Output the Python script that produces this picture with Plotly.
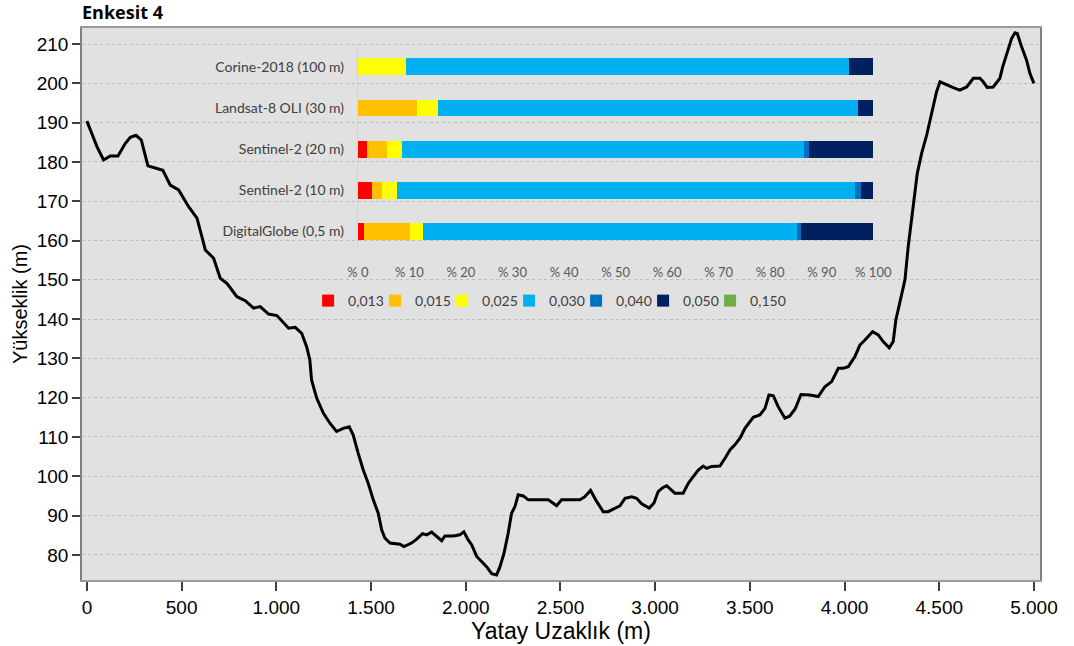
import plotly.graph_objects as go

# ---- profile data (Enkesit 4) ----
distance = [0, 26, 53, 88, 123, 164, 202, 229, 259, 287, 322, 352, 401, 440, 484, 537, 581, 607, 625, 669,
            704, 739, 792, 836, 880, 915, 959, 1003, 1065, 1100, 1134, 1160, 1177, 1186, 1213, 1248, 1283, 1318,
            1353, 1385, 1406, 1432, 1459, 1485, 1512, 1538, 1556, 1573, 1600, 1653, 1674, 1714, 1741, 1772, 1794,
            1820, 1846, 1873, 1890, 1934, 1969, 1990, 2013, 2031, 2058, 2084, 2110, 2137, 2163, 2181, 2202, 2224,
            2242, 2260, 2277, 2304, 2330, 2436, 2480, 2506, 2603, 2629, 2659, 2691, 2726, 2752, 2779, 2814, 2841,
            2876, 2902, 2929, 2969, 2994, 3016, 3040, 3061, 3078, 3104, 3148, 3175, 3201, 3228, 3254, 3272, 3298,
            3342, 3369, 3395, 3421, 3448, 3474, 3518, 3553, 3580, 3601, 3624, 3650, 3685, 3710, 3740, 3770, 3817,
            3861, 3896, 3932, 3967, 3993, 4020, 4055, 4081, 4108, 4148, 4178, 4204, 4236, 4257, 4271, 4292, 4319,
            4336, 4363, 4384, 4407, 4434, 4460, 4486, 4504, 4539, 4574, 4609, 4645, 4680, 4715, 4732, 4753, 4785,
            4820, 4835, 4856, 4882, 4900, 4912, 4935, 4961, 4979, 5000]
elevation = [190.4, 187.3, 183.9, 180.5, 181.5, 181.5, 184.7, 186.3, 186.8, 185.6, 179.0, 178.6, 177.9, 174.1,
             172.9, 168.6, 165.7, 161.0, 157.6, 155.5, 150.4, 149.1, 145.7, 144.7, 142.8, 143.2, 141.3, 140.9,
             137.7, 137.9, 136.4, 133.0, 129.6, 124.5, 119.9, 116.1, 113.5, 111.4, 112.2, 112.6, 110.5, 105.9,
             101.6, 98.2, 94.0, 90.6, 86.4, 84.3, 83.0, 82.7, 82.1, 83.0, 84.0, 85.4, 85.1, 85.8, 84.7, 83.6,
             84.8, 84.8, 85.1, 85.9, 83.8, 82.6, 79.6, 78.3, 77.0, 75.2, 74.9, 77.0, 80.4, 85.5, 90.6, 92.3,
             95.3, 95.0, 94.0, 94.0, 92.5, 94.0, 94.0, 94.8, 96.4, 93.6, 91.0, 91.0, 91.7, 92.5, 94.4, 94.8,
             94.4, 93.0, 91.9, 93.2, 96.1, 97.1, 97.6, 96.8, 95.7, 95.7, 98.2, 99.9, 101.6, 102.6, 102.0, 102.5,
             102.6, 104.6, 106.7, 108.0, 109.7, 112.2, 115.0, 115.6, 117.3, 120.7, 120.5, 117.7, 114.8, 115.3,
             117.2, 120.8, 120.7, 120.3, 122.8, 124.1, 127.5, 127.5, 127.9, 130.5, 133.4, 134.7, 136.8, 136.0,
             134.3, 132.7, 134.3, 139.8, 144.0, 150.0, 158.4, 168.6, 177.1, 182.2, 186.9, 192.4, 197.9, 200.4,
             199.6, 198.9, 198.3, 199.1, 201.3, 201.3, 200.4, 199.0, 199.1, 201.3, 204.2, 207.6, 211.4, 212.9,
             212.7, 209.3, 205.9, 202.5, 200.0]

x_tick_vals = [0, 500, 1000, 1500, 2000, 2500, 3000, 3500, 4000, 4500, 5000]
x_tick_text = ["0", "500", "1.000", "1.500", "2.000", "2.500", "3.000", "3.500", "4.000", "4.500", "5.000"]
y_tick_vals = [80, 90, 100, 110, 120, 130, 140, 150, 160, 170, 180, 190, 200, 210]

# ---- inset: roughness class shares (%) ----
sources = ["DigitalGlobe (0,5 m)", "Sentinel-2 (10 m)", "Sentinel-2 (20 m)",
           "Landsat-8 OLI (30 m)", "Corine-2018 (100 m)"]
classes = ["0,013", "0,015", "0,025", "0,030", "0,040", "0,050", "0,150"]
class_colors = ["#FF0000", "#FFC000", "#FFFF00", "#00B0F0", "#0070C0", "#002060", "#70AD47"]
share_0013 = [1.1, 2.7, 1.8, 0.0, 0.0]
share_0015 = [9.0, 2.0, 3.8, 11.4, 0.0]
share_0025 = [2.5, 2.8, 2.9, 4.2, 9.4]
share_0030 = [72.5, 89.0, 78.1, 81.5, 85.8]
share_0040 = [0.9, 1.1, 1.0, 0.0, 0.0]
share_0050 = [14.0, 2.4, 12.4, 2.9, 4.8]
share_0150 = [0.0, 0.0, 0.0, 0.0, 0.0]
shares = [share_0013, share_0015, share_0025, share_0030, share_0040, share_0050, share_0150]
pct_tick_vals = [0, 10, 20, 30, 40, 50, 60, 70, 80, 90, 100]
pct_tick_text = ["% 0", "% 10", "% 20", "% 30", "% 40", "% 50", "% 60", "% 70", "% 80", "% 90", "% 100"]

fig = go.Figure()

fig.add_trace(go.Scatter(x=distance, y=elevation, mode="lines",
                         line=dict(color="black", width=3), showlegend=False,
                         xaxis="x", yaxis="y", hoverinfo="skip"))

for name, col, vals in zip(classes, class_colors, shares):
    fig.add_trace(go.Bar(y=sources, x=vals, name=name, orientation="h",
                         marker=dict(color=col, line=dict(width=0)),
                         xaxis="x2", yaxis="y2"))

# invisible spacer entry so the last legend label is not clipped
fig.add_trace(go.Bar(y=[None], x=[None], name="", orientation="h",
                     marker=dict(color="rgba(0,0,0,0)", line=dict(width=0, color="rgba(0,0,0,0)")),
                     xaxis="x2", yaxis="y2", hoverinfo="skip"))

tick_font = dict(family="Liberation Sans, Arial, sans-serif", size=19, color="black")
inset_font = dict(family="Lato, Calibri, sans-serif", size=14, color="#404040")

fig.update_layout(
    width=1074, height=646,
    margin=dict(l=82, r=34, t=28, b=66),
    paper_bgcolor="white",
    plot_bgcolor="rgba(0,0,0,0)",
    barmode="stack",
    bargap=0.59,
    title=dict(text="<b>Enkesit 4</b>", x=0, xanchor="left", xref="paper",
               y=0.981, yref="container", yanchor="middle",
               font=dict(family="Open Sans, Lato, sans-serif", size=18, color="black")),
    shapes=[dict(type="rect", xref="paper", yref="paper", x0=0, x1=1, y0=0, y1=1,
                 fillcolor="#E1E1E1", line=dict(width=0), layer="below")],
    xaxis=dict(domain=[0, 1], range=[-26, 5032], tickvals=x_tick_vals, ticktext=x_tick_text,
               tickfont=tick_font, ticks="outside", ticklen=9, tickcolor="#404040", tickwidth=1.5,
               showline=True, mirror=True, linecolor="#9A9A9A", linewidth=1.5,
               showgrid=False, zeroline=False, automargin=False,
               title=dict(text="Yatay Uzaklık (m)", standoff=5,
                          font=dict(family="Liberation Sans, Arial, sans-serif", size=23, color="black"))),
    yaxis=dict(domain=[0, 1], range=[73.6, 214.1], tickvals=y_tick_vals,
               tickfont=tick_font, ticks="outside", ticklen=8, tickcolor="#404040", tickwidth=1.5,
               showline=True, mirror=True, linecolor="#7F7F7F", linewidth=1.5,
               showgrid=True, gridcolor="#BDBDBD", griddash="dot", gridwidth=1, zeroline=False,
               automargin=False,
               title=dict(text="Yükseklik (m)", standoff=4,
                          font=dict(family="Liberation Sans, Arial, sans-serif", size=20, color="black"))),
    xaxis2=dict(domain=[0.288, 0.826], anchor="y2", range=[0, 100], tickvals=pct_tick_vals,
                ticktext=pct_tick_text, tickfont=dict(family="Lato, Calibri, sans-serif", size=13, color="#595959"),
                ticks="outside", ticklen=8, tickcolor="rgba(0,0,0,0)", automargin=False,
                showgrid=False, zeroline=False, showline=False, fixedrange=True),
    yaxis2=dict(domain=[0.594, 0.967], anchor="x2", categoryorder="array", categoryarray=sources,
                tickfont=inset_font, ticks="outside", ticklen=10, tickcolor="rgba(0,0,0,0)",
                showgrid=False, zeroline=False, showline=True, linecolor="#D4D4D4", linewidth=1,
                fixedrange=True, automargin=False),
    legend=dict(orientation="h", x=0.236, xanchor="left", y=0.5054, yanchor="middle",
                bgcolor="rgba(0,0,0,0)", font=inset_font, traceorder="normal",
                entrywidth=22, entrywidthmode="pixels", itemclick=False, itemdoubleclick=False),
)

fig.write_html("out.html", config={"displayModeBar": False},
               post_script="document.body.style.margin='0px';")
